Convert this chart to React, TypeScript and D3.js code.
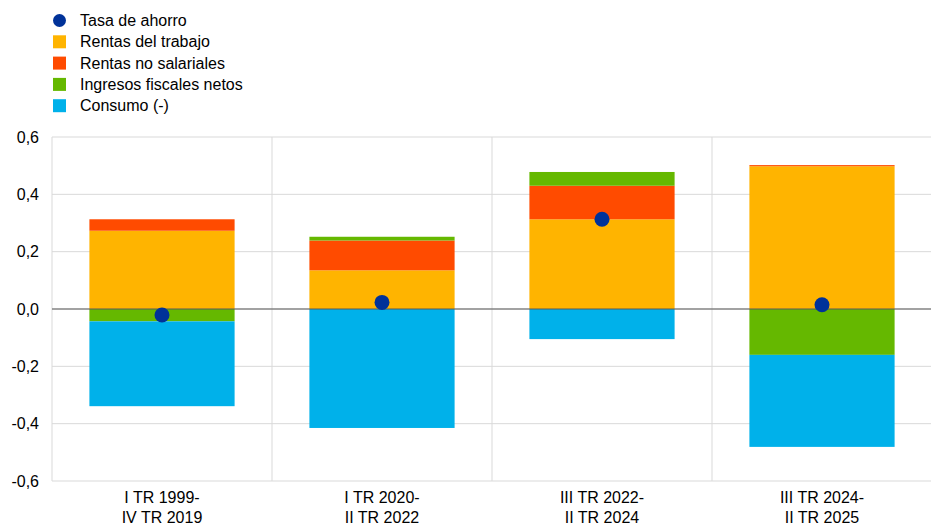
import React, { useEffect, useRef } from 'react';
import * as d3 from 'd3';

const periods = [
  ['I TR 1999-', 'IV TR 2019'],
  ['I TR 2020-', 'II TR 2022'],
  ['III TR 2022-', 'II TR 2024'],
  ['III TR 2024-', 'II TR 2025'],
];
const periodKeys = periods.map((p) => p.join(' '));

// contributions, percentage points
const rentasTrabajo = [0.273, 0.135, 0.313, 0.498];
const rentasNoSalariales = [0.04, 0.104, 0.117, 0.004];
const ingresosFiscales = [-0.043, 0.013, 0.048, -0.16];
const consumo = [-0.296, -0.415, -0.105, -0.321];
const tasaAhorro = [-0.021, 0.023, 0.313, 0.015];

const yTicks = [0.6, 0.4, 0.2, 0.0, -0.2, -0.4, -0.6];

const series = [
  { key: 'trabajo', label: 'Rentas del trabajo', color: '#ffb400', values: rentasTrabajo },
  { key: 'noSal', label: 'Rentas no salariales', color: '#ff4b00', values: rentasNoSalariales },
  { key: 'fiscal', label: 'Ingresos fiscales netos', color: '#65b800', values: ingresosFiscales },
  { key: 'consumo', label: 'Consumo (-)', color: '#00b1ea', values: consumo },
];
const dotColor = '#003299';

const W = 931;
const H = 526;
const margin = { top: 137, right: 0, bottom: 45, left: 52 };

const App: React.FC = () => {
  const svgRef = useRef<SVGSVGElement>(null);

  useEffect(() => {
    const svg = d3.select(svgRef.current);
    svg.selectAll('*').remove();
    const font = '"Liberation Sans", Arial, sans-serif';

    const x = d3.scaleBand<string>()
      .domain(periodKeys)
      .range([margin.left, 932])
      .paddingInner(0)
      .paddingOuter(0);

    const y = d3.scaleLinear()
      .domain([-0.6, 0.6])
      .range([H - margin.bottom, margin.top]);

    // horizontal grid
    svg.append('g')
      .selectAll('line')
      .data(yTicks)
      .join('line')
      .attr('x1', margin.left)
      .attr('x2', W)
      .attr('y1', (d) => y(d))
      .attr('y2', (d) => y(d))
      .attr('stroke', '#d9d9d9')
      .attr('stroke-width', 1);

    // vertical separators
    svg.append('g')
      .selectAll('line')
      .data(periodKeys)
      .join('line')
      .attr('x1', (d) => x(d)!)
      .attr('x2', (d) => x(d)!)
      .attr('y1', y(0.6))
      .attr('y2', y(-0.6))
      .attr('stroke', '#d9d9d9')
      .attr('stroke-width', 1);

    // y labels
    svg.append('g')
      .selectAll('text')
      .data(yTicks)
      .join('text')
      .attr('x', 39)
      .attr('y', (d) => y(d))
      .attr('dy', '0.35em')
      .attr('text-anchor', 'end')
      .attr('font-family', font)
      .attr('font-size', 16)
      .attr('fill', '#000')
      .text((d) => d3.format('.1f')(d).replace('.', ',').replace('−', '-'));

    // stacked bars
    const table = periodKeys.map((p, i) => {
      const row: Record<string, any> = { period: p };
      series.forEach((s) => { row[s.key] = s.values[i]; });
      return row;
    });
    const stack = d3.stack<Record<string, any>>()
      .keys(series.map((s) => s.key))
      .offset(d3.stackOffsetDiverging);
    const stacked = stack(table);

    const bw = x.bandwidth() * 0.66;
    svg.append('g')
      .selectAll('g')
      .data(stacked)
      .join('g')
      .attr('fill', (d, i) => series[i].color)
      .selectAll('rect')
      .data((d) => d)
      .join('rect')
      .attr('x', (d) => x(d.data.period)! + (x.bandwidth() - bw) / 2)
      .attr('width', bw)
      .attr('y', (d) => y(Math.max(d[0], d[1])))
      .attr('height', (d) => Math.abs(y(d[0]) - y(d[1])));

    // zero line
    svg.append('line')
      .attr('x1', margin.left)
      .attr('x2', W)
      .attr('y1', y(0))
      .attr('y2', y(0))
      .attr('stroke', '#595959')
      .attr('stroke-width', 1.2);

    // saving rate dots
    svg.append('g')
      .selectAll('circle')
      .data(tasaAhorro)
      .join('circle')
      .attr('cx', (d, i) => x(periodKeys[i])! + x.bandwidth() / 2)
      .attr('cy', (d) => y(d))
      .attr('r', 7.5)
      .attr('fill', dotColor);

    // x labels
    const xl = svg.append('g')
      .selectAll('text')
      .data(periods)
      .join('text')
      .attr('x', (d, i) => x(periodKeys[i])! + x.bandwidth() / 2)
      .attr('y', 503)
      .attr('text-anchor', 'middle')
      .attr('font-family', font)
      .attr('font-size', 16)
      .attr('fill', '#000');
    xl.selectAll('tspan')
      .data((d) => d)
      .join('tspan')
      .attr('x', function () { return (this.parentNode as SVGTextElement).getAttribute('x'); })
      .attr('dy', (d, i) => (i === 0 ? 0 : 20))
      .text((d) => d);

    // legend
    const legendItems = [
      { label: 'Tasa de ahorro', color: dotColor, dot: true },
      ...series.map((s) => ({ label: s.label, color: s.color, dot: false })),
    ];
    const lg = svg.append('g')
      .selectAll('g')
      .data(legendItems)
      .join('g')
      .attr('transform', (d, i) => `translate(0, ${20.5 + i * 21.3})`);
    lg.filter((d) => d.dot)
      .append('circle')
      .attr('cx', 59.5)
      .attr('cy', 0)
      .attr('r', 6.5)
      .attr('fill', (d) => d.color);
    lg.filter((d) => !d.dot)
      .append('rect')
      .attr('x', 53)
      .attr('y', -6.5)
      .attr('width', 13)
      .attr('height', 13)
      .attr('fill', (d) => d.color);
    lg.append('text')
      .attr('x', 80)
      .attr('y', 0)
      .attr('dy', '0.35em')
      .attr('font-family', font)
      .attr('font-size', 16)
      .attr('fill', '#000')
      .text((d) => d.label);
  }, []);

  return (
    <svg
      ref={svgRef}
      width={W}
      height={H}
      style={{ position: 'absolute', left: 0, top: 0, background: '#fff' }}
    />
  );
};

export default App;
